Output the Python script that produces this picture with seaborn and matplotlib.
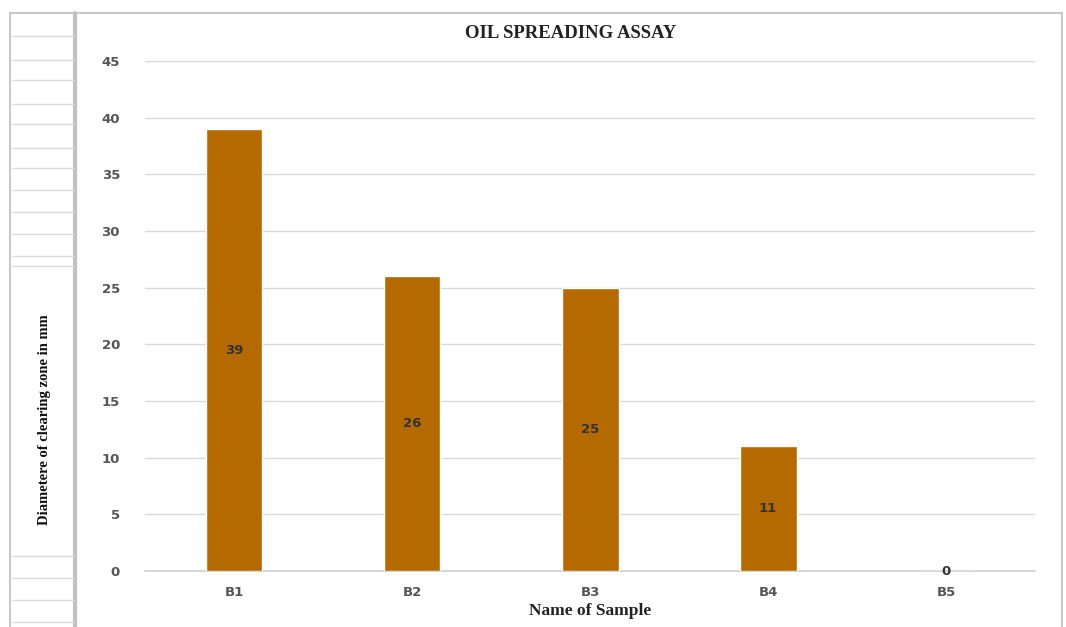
import pandas as pd
import matplotlib
matplotlib.use("Agg")
import matplotlib.pyplot as plt
from matplotlib.lines import Line2D
import seaborn as sns

samples = ["B1", "B2", "B3", "B4", "B5"]
diameters = [39, 26, 25, 11, 0]
y_ticks = [0, 5, 10, 15, 20, 25, 30, 35, 40, 45]

df = pd.DataFrame({"sample": samples, "diameter": diameters})

sns.set_style("white")
fig = plt.figure(figsize=(10.66, 6.27), dpi=100)
ax = fig.add_axes([0.136, 0.0893, 0.835, 0.8134])

sns.barplot(data=df, x="sample", y="diameter", color="#B46A00",
            saturation=1, width=0.32, ax=ax)

ax.set_ylim(0, 45)
ax.set_xlim(-0.5, 4.5)
ax.set_yticks(y_ticks)
ax.yaxis.grid(True, color="#d9d9d9", linewidth=1)
ax.set_axisbelow(True)
ax.axhline(0, color="#d0d0d0", linewidth=1.2, clip_on=False, zorder=0.5)
for s in ax.spines.values():
    s.set_visible(False)
ax.tick_params(axis="both", length=0, labelsize=9.5, labelcolor="#555555")
ax.tick_params(axis="y", pad=18)
ax.tick_params(axis="x", pad=11)
for lbl in ax.get_xticklabels() + ax.get_yticklabels():
    lbl.set_fontweight("bold")

ax.bar_label(ax.containers[0], labels=[str(v) for v in diameters],
             label_type="center", fontsize=9.5, fontweight="bold", color="#333333")

ax.set_xlabel("Name of Sample", fontsize=12.5, fontweight="bold",
              family="Liberation Serif", color="#222222", labelpad=3)
ax.set_ylabel("")
fig.text(0.535, 0.947, "OIL SPREADING ASSAY", ha="center", va="center",
         fontsize=13.5, fontweight="bold", family="Liberation Serif", color="#222222")
fig.text(0.042, 0.33, "Diametere of clearing zone in mm", rotation=90,
         ha="center", va="center", fontsize=10.5, fontweight="bold",
         family="Liberation Serif", color="#111111")

# spreadsheet-like frame around the chart
H = 627.0
W = 1066.0
fig.add_artist(Line2D([10 / W, 1062 / W], [1 - 13 / H, 1 - 13 / H], color="#c8c8c8", lw=1.5))
fig.add_artist(Line2D([10 / W, 10 / W], [0, 1 - 13 / H], color="#c8c8c8", lw=1.5))
fig.add_artist(Line2D([1062 / W, 1062 / W], [0, 1 - 13 / H], color="#c8c8c8", lw=1.5))
fig.add_artist(Line2D([75 / W, 75 / W], [0, 1 - 13 / H], color="#c0c0c0", lw=3))
for y in [36, 60, 80, 104, 124, 148, 168, 190, 212, 234, 256, 266, 556, 578, 600, 622]:
    fig.add_artist(Line2D([12 / W, 74 / W], [1 - y / H, 1 - y / H], color="#dcdcdc", lw=1))

fig.savefig("out.png", dpi=100)
